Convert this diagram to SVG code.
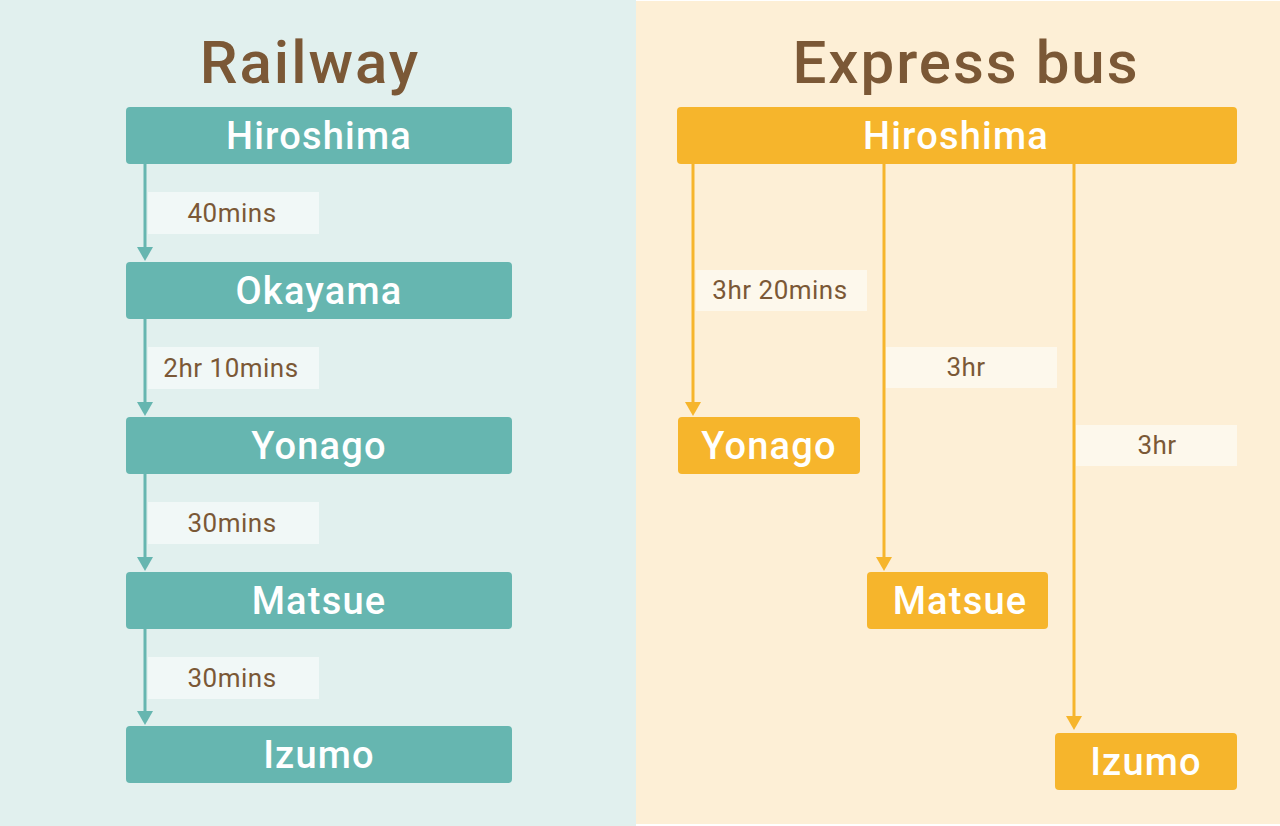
<svg xmlns="http://www.w3.org/2000/svg" width="1280" height="826" viewBox="0 0 1280 826">
<defs>
<style>
.title{font-family:Roboto,"Liberation Sans",sans-serif;font-weight:500;font-size:60px;fill:#7b5836;text-anchor:middle;letter-spacing:2px}
.rn{fill:#66b6b0}
.bn{fill:#f6b52c}
.nt{font-family:Roboto,"Liberation Sans",sans-serif;font-weight:500;font-size:38px;fill:#ffffff;text-anchor:middle;letter-spacing:1.2px}
.lt{font-family:Roboto,"Liberation Sans",sans-serif;font-size:26px;fill:#7b5836;text-anchor:middle;letter-spacing:0.5px}
.rl{fill:#f1f8f7}
.bl{fill:#fdf8ec}
.rline{stroke:#66b6b0;stroke-width:3;fill:none}
.bline{stroke:#f6b52c;stroke-width:3;fill:none}
.rh{fill:#66b6b0}
.bh{fill:#f6b52c}
</style>
</defs>
<rect x="0" y="0" width="636" height="826" fill="#e1f0ee"/>
<rect x="636" y="1" width="644" height="823" fill="#fdefd6"/>
<text class="title" x="310" y="83">Railway</text>
<text class="title" x="966" y="83">Express bus</text>

<g id="connectors">
<path class="rline" d="M145,164 V248"/><path class="rh" d="M137,247 L153,247 L145,261 Z"/>
<path class="rline" d="M145,319 V403"/><path class="rh" d="M137,402 L153,402 L145,416 Z"/>
<path class="rline" d="M145,474 V558"/><path class="rh" d="M137,557 L153,557 L145,571 Z"/>
<path class="rline" d="M145,629 V712"/><path class="rh" d="M137,711 L153,711 L145,725 Z"/>
<path class="bline" d="M693,164 V403"/><path class="bh" d="M685,402 L701,402 L693,416 Z"/>
<path class="bline" d="M884,164 V558"/><path class="bh" d="M876,557 L892,557 L884,571 Z"/>
<path class="bline" d="M1074,164 V718"/><path class="bh" d="M1066,716 L1082,716 L1074,730 Z"/>
<rect class="rl" x="148" y="192" width="171" height="42"/><text class="lt" x="232" y="222">40mins</text>
<rect class="rl" x="148" y="347" width="171" height="42"/><text class="lt" x="231" y="377">2hr 10mins</text>
<rect class="rl" x="148" y="502" width="171" height="42"/><text class="lt" x="232" y="532">30mins</text>
<rect class="rl" x="148" y="657" width="171" height="42"/><text class="lt" x="232" y="687">30mins</text>
<rect class="bl" x="696" y="270" width="171" height="41"/><text class="lt" x="780" y="299">3hr 20mins</text>
<rect class="bl" x="886" y="347" width="171" height="41"/><text class="lt" x="966" y="376">3hr</text>
<rect class="bl" x="1076" y="425" width="161" height="41"/><text class="lt" x="1157" y="454">3hr</text>
</g>

<g id="r-hiroshima"><rect class="rn" x="126" y="107" width="386" height="57" rx="4"/><text class="nt" x="319" y="149">Hiroshima</text></g>
<g id="r-okayama"><rect class="rn" x="126" y="262" width="386" height="57" rx="4"/><text class="nt" x="319" y="304">Okayama</text></g>
<g id="r-yonago"><rect class="rn" x="126" y="417" width="386" height="57" rx="4"/><text class="nt" x="319" y="459">Yonago</text></g>
<g id="r-matsue"><rect class="rn" x="126" y="572" width="386" height="57" rx="4"/><text class="nt" x="319" y="614">Matsue</text></g>
<g id="r-izumo"><rect class="rn" x="126" y="726" width="386" height="57" rx="4"/><text class="nt" x="319" y="768">Izumo</text></g>

<g id="b-hiroshima"><rect class="bn" x="677" y="107" width="560" height="57" rx="4"/><text class="nt" x="956" y="149">Hiroshima</text></g>
<g id="b-yonago"><rect class="bn" x="678" y="417" width="182" height="57" rx="4"/><text class="nt" x="769" y="459">Yonago</text></g>
<g id="b-matsue"><rect class="bn" x="867" y="572" width="181" height="57" rx="4"/><text class="nt" x="960" y="614">Matsue</text></g>
<g id="b-izumo"><rect class="bn" x="1055" y="733" width="182" height="57" rx="4"/><text class="nt" x="1146" y="775">Izumo</text></g>
</svg>
